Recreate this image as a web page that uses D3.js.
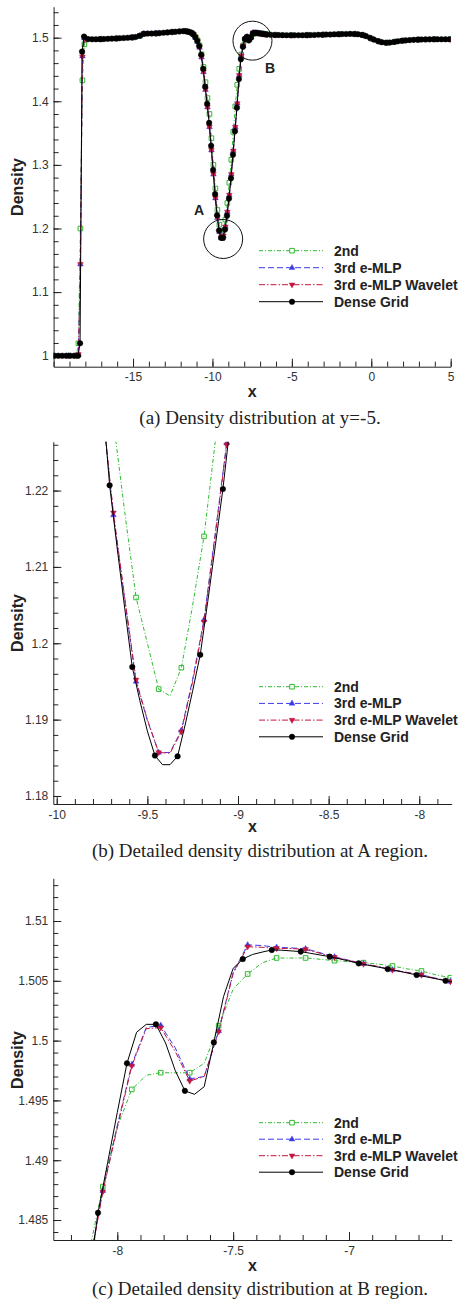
<!DOCTYPE html>
<html>
<head>
<meta charset="utf-8">
<title>Density distribution</title>
<script src="https://cdn.jsdelivr.net/npm/d3@7"></script>
<style>
  html, body { margin: 0; padding: 0; background: #fff; }
  svg { display: block; }
</style>
</head>
<body>
<svg id="fig" width="463" height="1302"></svg>
<script>
// ---------- series names, ticks, captions ----------
const seriesNames = ["2nd", "3rd e-MLP", "3rd e-MLP Wavelet", "Dense Grid"];

const xTicksA = [-15, -10, -5, 0, 5];
const yTicksA = [1, 1.1, 1.2, 1.3, 1.4, 1.5];
const xTicksB = [-10, -9.5, -9, -8.5, -8];
const yTicksB = [1.18, 1.19, 1.2, 1.21, 1.22];
const xTicksC = [-8, -7.5, -7];
const yTicksC = [1.485, 1.49, 1.495, 1.5, 1.505, 1.51];

const captions = [
  "(a) Density distribution at y=-5.",
  "(b) Detailed density distribution at A region.",
  "(c) Detailed density distribution at B region."
];

// ---------- (a) full line y=-5, values [x, density] ----------
const secondA = [
  [-20,1.0],[-19.0625,1.0],[-18.5625,1.0],[-18.4375,1.0195],[-18.3125,1.2],[-18.1875,1.433],
  [-18.0625,1.4896],[-17.9375,1.4972],[-17,1.4977],[-16,1.4989],[-15,1.5005],[-14.5625,1.5028],
  [-14.3125,1.5058],[-13.5,1.5068],[-12.5,1.5089],[-11.5625,1.5096],[-11.3125,1.5078],[-11.1875,1.5052],
  [-11.0625,1.5010],[-10.9375,1.4960],[-10.8125,1.4880],[-10.6875,1.4740],[-10.5625,1.4540],[-10.4375,1.4300],
  [-10.3125,1.4050],[-10.1875,1.3800],[-10.0625,1.3420],[-9.9375,1.3000],[-9.8125,1.2630],[-9.6875,1.2291],
  [-9.5625,1.2060],[-9.4375,1.1940],[-9.3125,1.1968],[-9.1875,1.2140],[-9.0625,1.2400],[-8.9375,1.2720],
  [-8.8125,1.3080],[-8.6875,1.3520],[-8.5625,1.3920],[-8.4375,1.4260],[-8.3125,1.4510],[-8.1875,1.4735],
  [-8.0625,1.4880],[-7.9375,1.4959],[-7.8125,1.4973],[-7.6875,1.4973],[-7.5625,1.5013],[-7.4375,1.5056],
  [-7.3125,1.5069],[-7.1875,1.5069],[-7.0625,1.5067],[-6.9375,1.5065],[-6.8125,1.5062],[-6.6875,1.5058],
  [-6.5625,1.5053],[-6,1.5043],[-5,1.5038],[-4,1.5040],[-3,1.5047],[-2,1.5055],[-1,1.5058],[-0.5,1.5040],
  [0,1.4985],[0.5,1.4940],[1,1.4921],[1.5,1.4936],[2,1.4953],[3,1.4970],[4,1.4975],[5,1.4975]
];
const emlpA = [
  [-20,1.0],[-19.0625,1.0],[-18.5625,1.0],[-18.4375,1.002],[-18.3125,1.1440],[-18.1875,1.471],
  [-18.0625,1.4993],[-17.9375,1.4979],[-17,1.4977],[-16,1.4989],[-15,1.5005],[-14.5625,1.5032],
  [-14.3125,1.5062],[-13.5,1.5068],[-12.5,1.5089],[-11.5625,1.5096],[-11.3125,1.5075],[-11.1875,1.5050],
  [-11.0625,1.5001],[-10.9375,1.4936],[-10.8125,1.4846],[-10.6875,1.4692],[-10.5625,1.4462],[-10.4375,1.4182],
  [-10.3125,1.3907],[-10.1875,1.3597],[-10.0625,1.3232],[-9.9375,1.2852],[-9.8125,1.2478],[-9.6875,1.2168],
  [-9.5625,1.1950],[-9.4375,1.1857],[-9.3125,1.1886],[-9.1875,1.2031],[-9.0625,1.2262],[-8.9375,1.2527],
  [-8.8125,1.2853],[-8.6875,1.3223],[-8.5625,1.3598],[-8.4375,1.3968],[-8.3125,1.4412],[-8.1875,1.4717],
  [-8.0625,1.48745],[-7.9375,1.4980],[-7.8125,1.50128],[-7.6875,1.4968],[-7.5625,1.5008],[-7.4375,1.5080],
  [-7.3125,1.5078],[-7.1875,1.50768],[-7.0625,1.5070],[-6.9375,1.50643],[-6.8125,1.50592],[-6.6875,1.5055],
  [-6.5625,1.50495],[-6,1.5043],[-5,1.5038],[-4,1.5040],[-3,1.5047],[-2,1.5055],[-1,1.5058],[-0.5,1.5040],
  [0,1.4985],[0.5,1.4940],[1,1.4921],[1.5,1.4936],[2,1.4953],[3,1.4970],[4,1.4975],[5,1.4975]
];
const waveletA = [
  [-20,1.0],[-19.0625,1.0],[-18.5625,1.0],[-18.4375,1.002],[-18.3125,1.1437],[-18.1875,1.470],
  [-18.0625,1.4995],[-17.9375,1.4980],[-17,1.4977],[-16,1.4989],[-15,1.5005],[-14.5625,1.5032],
  [-14.3125,1.5062],[-13.5,1.5068],[-12.5,1.5089],[-11.5625,1.5096],[-11.3125,1.5075],[-11.1875,1.5050],
  [-11.0625,1.5002],[-10.9375,1.4938],[-10.8125,1.4848],[-10.6875,1.4695],[-10.5625,1.4465],[-10.4375,1.4185],
  [-10.3125,1.3910],[-10.1875,1.3600],[-10.0625,1.3235],[-9.9375,1.2855],[-9.8125,1.2480],[-9.6875,1.2171],
  [-9.5625,1.1952],[-9.4375,1.1857],[-9.3125,1.1884],[-9.1875,1.2028],[-9.0625,1.2260],[-8.9375,1.2525],
  [-8.8125,1.2850],[-8.6875,1.3220],[-8.5625,1.3595],[-8.4375,1.3965],[-8.3125,1.4410],[-8.1875,1.4715],
  [-8.0625,1.48737],[-7.9375,1.49788],[-7.8125,1.50108],[-7.6875,1.49662],[-7.5625,1.50075],[-7.4375,1.50785],
  [-7.3125,1.50771],[-7.1875,1.50763],[-7.0625,1.50696],[-6.9375,1.5064],[-6.8125,1.5059],[-6.6875,1.50549],
  [-6.5625,1.50493],[-6,1.5043],[-5,1.5038],[-4,1.5040],[-3,1.5047],[-2,1.5055],[-1,1.5058],[-0.5,1.5040],
  [0,1.4985],[0.5,1.4940],[1,1.4921],[1.5,1.4936],[2,1.4953],[3,1.4970],[4,1.4975],[5,1.4975]
];
const denseA = [
  [-19.9583,1.0],[-19.7083,1.0],[-19.4583,1.0],[-19.2083,1.0],[-18.9583,1.0],[-18.7083,1.0],[-18.4583,1.0],
  [-18.3333,1.0195],[-18.2083,1.478],[-18.0833,1.5016],
  [-17.8333,1.4978],[-17.5833,1.4975],[-17.3333,1.4975],[-17.0833,1.4977],[-16.8333,1.4979],[-16.5833,1.4982],
  [-16.3333,1.4985],[-16.0833,1.4988],[-15.8333,1.4992],[-15.5833,1.4996],[-15.3333,1.5000],[-15.0833,1.5004],
  [-14.8333,1.5010],[-14.5833,1.5030],[-14.3333,1.5062],[-14.0833,1.5066],[-13.8333,1.5066],[-13.5833,1.5068],
  [-13.3333,1.5072],[-13.0833,1.5077],[-12.8333,1.5083],[-12.5833,1.5089],[-12.3333,1.5094],[-12.0833,1.5099],
  [-11.8333,1.5103],[-11.7083,1.5103],
  [-11.5833,1.5097],[-11.4583,1.5090],[-11.3333,1.5078],[-11.2083,1.5055],[-11.0833,1.5010],[-10.9583,1.4950],
  [-10.8333,1.4870],[-10.7083,1.4730],[-10.5833,1.4510],[-10.4583,1.4230],[-10.3333,1.3960],[-10.2083,1.3660],
  [-10.0833,1.3300],[-9.9583,1.2920],[-9.8333,1.2540],[-9.7083,1.2207],[-9.5833,1.1969],[-9.4583,1.1853],
  [-9.3333,1.1852],[-9.2083,1.1985],[-9.0833,1.2202],[-8.9583,1.2470],[-8.8333,1.2790],[-8.7083,1.3160],
  [-8.5833,1.3530],[-8.4583,1.3900],[-8.3333,1.4350],[-8.2083,1.4660],[-8.0833,1.4856],[-7.9583,1.4981],
  [-7.8333,1.5014],[-7.7083,1.4958],[-7.5833,1.4999],[-7.4583,1.5068],[-7.3333,1.5076],[-7.2083,1.5074],
  [-7.0833,1.5070],[-6.9583,1.5065],[-6.8333,1.5060],[-6.7083,1.5055],[-6.5833,1.5050],
  [-6.3333,1.5046],[-6.0833,1.5043],[-5.8333,1.5041],[-5.5833,1.5040],[-5.3333,1.5039],[-5.0833,1.5038],
  [-4.8333,1.5038],[-4.5833,1.5038],[-4.3333,1.5039],[-4.0833,1.5040],[-3.8333,1.5041],[-3.5833,1.5043],
  [-3.3333,1.5045],[-3.0833,1.5047],[-2.8333,1.5049],[-2.5833,1.5051],[-2.3333,1.5053],[-2.0833,1.5055],
  [-1.8333,1.5057],[-1.5833,1.5058],[-1.3333,1.5059],[-1.0833,1.5058],[-0.8333,1.5054],[-0.5833,1.5044],
  [-0.3333,1.5024],[-0.0833,1.4998],[0.1667,1.4970],[0.4167,1.4946],[0.6667,1.4929],[0.9167,1.4921],
  [1.1667,1.4924],[1.4167,1.4933],[1.6667,1.4943],[1.9167,1.4951],[2.1667,1.4957],[2.4167,1.4962],
  [2.6667,1.4966],[2.9167,1.4969],[3.1667,1.4971],[3.4167,1.4973],[3.6667,1.4974],[3.9167,1.4975],
  [4.1667,1.4975],[4.4167,1.4975],[4.6667,1.4975],[4.9167,1.4975]
];

// ---------- (b) region A ----------
const secondB = [
  [-9.8125,1.2630],[-9.75,1.2440],[-9.6875,1.2291],[-9.625,1.2172],[-9.5625,1.2060],[-9.5,1.2000],
  [-9.4375,1.1940],[-9.375,1.1931],[-9.3125,1.1968],[-9.25,1.2050],[-9.1875,1.2140],[-9.125,1.2265],
  [-9.0625,1.2400],[-9.0,1.2560],[-8.9375,1.2720]
];
const emlpB = [
  [-9.8125,1.2478],[-9.75,1.2310],[-9.6875,1.2168],[-9.625,1.2057],[-9.5625,1.1950],[-9.5,1.1899],
  [-9.4375,1.1857],[-9.375,1.1857],[-9.3125,1.1886],[-9.25,1.1953],[-9.1875,1.2031],[-9.125,1.2145],
  [-9.0625,1.2262],[-9.0,1.2392],[-8.9375,1.2527]
];
const waveletB = [
  [-9.8125,1.2480],[-9.75,1.2313],[-9.6875,1.2171],[-9.625,1.2060],[-9.5625,1.1952],[-9.5,1.1900],
  [-9.4375,1.1857],[-9.375,1.1856],[-9.3125,1.1884],[-9.25,1.1950],[-9.1875,1.2028],[-9.125,1.2142],
  [-9.0625,1.2260],[-9.0,1.2390],[-8.9375,1.2525]
];
const denseB = [
  [-9.8333,1.2540],[-9.7917,1.2432],[-9.75,1.2328],
  [-9.7083,1.2207],[-9.6667,1.2125],[-9.625,1.2046],
  [-9.5833,1.1969],[-9.5417,1.1925],[-9.5,1.1885],
  [-9.4583,1.1853],[-9.4167,1.1841],[-9.375,1.1841],
  [-9.3333,1.1852],[-9.2917,1.1893],[-9.25,1.1938],
  [-9.2083,1.1985],[-9.1667,1.2055],[-9.125,1.2128],
  [-9.0833,1.2202],[-9.0417,1.2289],[-9.0,1.2380],
  [-8.9583,1.2470]
];

// ---------- (c) region B ----------
const secondC = [
  [-8.3125,1.4510],[-8.25,1.4630],[-8.1875,1.4735],[-8.125,1.4820],[-8.0625,1.4878],[-8.0,1.4928],
  [-7.9375,1.49592],[-7.875,1.4971],[-7.8125,1.49732],[-7.75,1.4973],[-7.6875,1.49732],[-7.625,1.4981],
  [-7.5625,1.50125],[-7.5,1.5043],[-7.4375,1.50557],[-7.375,1.5065],[-7.3125,1.50691],[-7.25,1.5069],
  [-7.1875,1.50691],[-7.125,1.5068],[-7.0625,1.50668],[-7.0,1.5066],[-6.9375,1.50652],[-6.875,1.5064],
  [-6.8125,1.50624],[-6.75,1.5060],[-6.6875,1.50582],[-6.625,1.5055],[-6.5625,1.50526],[-6.5,1.5050]
];
const emlpC = [
  [-8.3125,1.4412],[-8.25,1.4577],[-8.1875,1.4717],[-8.125,1.4808],[-8.0625,1.48745],[-8.0,1.4929],
  [-7.9375,1.4980],[-7.875,1.5011],[-7.8125,1.50128],[-7.75,1.4994],[-7.6875,1.4968],[-7.625,1.4970],
  [-7.5625,1.5008],[-7.5,1.5057],[-7.4375,1.5080],[-7.375,1.50795],[-7.3125,1.5078],[-7.25,1.50775],
  [-7.1875,1.50768],[-7.125,1.50735],[-7.0625,1.5070],[-7.0,1.50672],[-6.9375,1.50643],[-6.875,1.50618],
  [-6.8125,1.50592],[-6.75,1.5057],[-6.6875,1.5055],[-6.625,1.50522],[-6.5625,1.50495],[-6.5,1.5047]
];
const waveletC = [
  [-8.3125,1.4410],[-8.25,1.4575],[-8.1875,1.4715],[-8.125,1.4806],[-8.0625,1.48737],[-8.0,1.4927],
  [-7.9375,1.49788],[-7.875,1.5010],[-7.8125,1.50108],[-7.75,1.4991],[-7.6875,1.49662],[-7.625,1.4970],
  [-7.5625,1.50075],[-7.5,1.5056],[-7.4375,1.50785],[-7.375,1.5078],[-7.3125,1.50771],[-7.25,1.5077],
  [-7.1875,1.50763],[-7.125,1.5073],[-7.0625,1.50696],[-7.0,1.5067],[-6.9375,1.5064],[-6.875,1.5062],
  [-6.8125,1.5059],[-6.75,1.5057],[-6.6875,1.50549],[-6.625,1.5052],[-6.5625,1.50493],[-6.5,1.5047]
];
const denseC = [
  [-8.3333,1.4350],[-8.2917,1.4470],[-8.25,1.4570],
  [-8.2083,1.4660],[-8.1667,1.4735],[-8.125,1.4797],
  [-8.0833,1.4856],[-8.0417,1.4898],[-8.0,1.4940],
  [-7.9583,1.4981],[-7.9167,1.5007],[-7.875,1.50136],
  [-7.8333,1.50136],[-7.7917,1.4998],[-7.75,1.4975],
  [-7.7083,1.4958],[-7.6667,1.49551],[-7.625,1.49615],
  [-7.5833,1.49985],[-7.5417,1.50367],[-7.5,1.50604],
  [-7.4583,1.50682],[-7.4167,1.5072],[-7.375,1.5074],
  [-7.3333,1.50758],[-7.2917,1.50756],[-7.25,1.5075],
  [-7.2083,1.50744],[-7.1667,1.5073],[-7.125,1.50716],
  [-7.0833,1.50702],[-7.0417,1.50684],[-7.0,1.50665],
  [-6.9583,1.50646],[-6.9167,1.5063],[-6.875,1.50615],
  [-6.8333,1.50599],[-6.7917,1.50583],[-6.75,1.50566],
  [-6.7083,1.50549],[-6.6667,1.50533],[-6.625,1.50517],
  [-6.5833,1.50501],[-6.5417,1.50485],[-6.5,1.5047]
];

// ---------- drawing styles ----------
const styles = [
  { color: "#2fbb2f", dash: "4,2,1,2", marker: "square" },
  { color: "#3a3ae8", dash: "6,3", marker: "triUp" },
  { color: "#c3163f", dash: "6,2,1.5,2", marker: "triDown" },
  { color: "#000000", dash: null, marker: "circle" }
];
const markerPath = {
  square: "M-2.3,-2.3H2.3V2.3H-2.3Z",
  triUp: "M0,-3.3L2.9,1.8H-2.9Z",
  triDown: "M0,3.3L2.9,-1.8H-2.9Z",
  circle: "M2.8,0A2.8,2.8 0 1,1 -2.8,0A2.8,2.8 0 1,1 2.8,0Z"
};

const sansFont = "'Liberation Sans', Arial, Helvetica, sans-serif";
const serifFont = "'Liberation Serif', 'Times New Roman', Times, serif";

const panels = [
  { id: "a", series: [secondA, emlpA, waveletA, denseA], markEvery: [1, 1, 1, 1],
    xDomain: [-20, 5], yDomain: [0.9827, 1.5487],
    box: { left: 53.6, right: 450.7, top: 6.7, bottom: 366.7 },
    xTicks: xTicksA, yTicks: yTicksA, xMinor: 1, yMinor: 0.02,
    legendTop: 250.7, legendStep: 17, xLabelY: 397, densityY: 187,
    captionY: 424, caption: captions[0],
    notes: [
      { label: "A", cx: -9.326, cy: 1.1835, r: 19.5, lx: -10.84, ly: 1.2291 },
      { label: "B", cx: -7.479, cy: 1.4953, r: 19.5, lx: -6.365, ly: 1.4524 }
    ] },
  { id: "b", series: [secondB, emlpB, waveletB, denseB], markEvery: [2, 2, 2, 3],
    xDomain: [-10.019, -7.821], yDomain: [1.17895, 1.2264],
    box: { left: 53.3, right: 451.7, top: 441.7, bottom: 804 },
    xTicks: xTicksB, yTicks: yTicksB, xMinor: 0.1, yMinor: 0.002,
    legendTop: 686.7, legendStep: 16.7, xLabelY: 832, densityY: 623,
    captionY: 857, caption: captions[1], notes: [] },
  { id: "c", series: [secondC, emlpC, waveletC, denseC], markEvery: [2, 2, 2, 3],
    xDomain: [-8.2762, -6.5568], yDomain: [1.48333, 1.51357],
    box: { left: 53.3, right: 451.7, top: 878.3, bottom: 1240 },
    xTicks: xTicksC, yTicks: yTicksC, xMinor: 0.1, yMinor: 0.001,
    legendTop: 1122.7, legendStep: 16.5, xLabelY: 1271, densityY: 1060,
    captionY: 1295, caption: captions[2], notes: [] }
];

const svg = d3.select("#fig");

// multiples of step inside a domain
function minorValues(domain, step) {
  const lo = Math.ceil(Math.min(...domain) / step - 1e-9);
  const hi = Math.floor(Math.max(...domain) / step + 1e-9);
  return d3.range(lo, hi + 1).map(i => +(i * step).toFixed(6));
}

function styleAxis(g) {
  g.selectAll(".domain").attr("stroke", "#222").attr("stroke-width", 1);
  g.selectAll(".tick line").attr("stroke", "#222").attr("stroke-width", 1);
  g.selectAll(".tick text").attr("fill", "#333")
    .attr("font-family", sansFont).attr("font-size", 12);
}

function drawPanel(p) {
  const b = p.box;
  const x = d3.scaleLinear().domain(p.xDomain).range([b.left, b.right]);
  const y = d3.scaleLinear().domain(p.yDomain).range([b.bottom, b.top]);
  const root = svg.append("g").attr("class", "panel-" + p.id);

  // minor ticks (inward)
  root.append("g").attr("transform", `translate(0,${b.bottom})`)
    .call(d3.axisBottom(x).tickValues(minorValues(p.xDomain, p.xMinor))
      .tickSizeInner(-5).tickSizeOuter(0).tickFormat(""))
    .call(g => g.select(".domain").remove())
    .call(styleAxis);
  root.append("g").attr("transform", `translate(${b.left},0)`)
    .call(d3.axisLeft(y).tickValues(minorValues(p.yDomain, p.yMinor))
      .tickSizeInner(-5).tickSizeOuter(0).tickFormat(""))
    .call(g => g.select(".domain").remove())
    .call(styleAxis);

  // major ticks with labels
  root.append("g").attr("transform", `translate(0,${b.bottom})`)
    .call(d3.axisBottom(x).tickValues(p.xTicks).tickSizeInner(-8).tickSizeOuter(0)
      .tickPadding(6).tickFormat(d => String(d)))
    .call(styleAxis);
  root.append("g").attr("transform", `translate(${b.left},0)`)
    .call(d3.axisLeft(y).tickValues(p.yTicks).tickSizeInner(-8).tickSizeOuter(0)
      .tickPadding(5).tickFormat(d => String(d)))
    .call(styleAxis);

  // data, clipped to the plot box
  const clipId = "clip-" + p.id;
  svg.append("clipPath").attr("id", clipId).append("rect")
    .attr("x", b.left).attr("y", b.top)
    .attr("width", b.right - b.left).attr("height", b.bottom - b.top);
  const plot = root.append("g").attr("clip-path", `url(#${clipId})`);
  const line = d3.line().x(d => x(d[0])).y(d => y(d[1]));

  p.series.forEach((data, si) => {
    const st = styles[si];
    const sg = plot.append("g").attr("class", "series-" + si);
    sg.append("path").datum(data).attr("d", line)
      .attr("fill", "none").attr("stroke", st.color).attr("stroke-width", 1)
      .attr("stroke-dasharray", st.dash);
    const every = p.markEvery[si];
    sg.selectAll("path.mk").data(data.filter((d, i) => i % every === 0))
      .join("path").attr("class", "mk")
      .attr("transform", d => `translate(${x(d[0])},${y(d[1])})`)
      .attr("d", markerPath[st.marker])
      .attr("fill", st.marker === "square" ? "none" : st.color)
      .attr("stroke", st.color)
      .attr("stroke-width", st.marker === "square" ? 1 : 0.4);
  });

  // circled regions
  p.notes.forEach(n => {
    root.append("circle").attr("cx", x(n.cx)).attr("cy", y(n.cy)).attr("r", n.r)
      .attr("fill", "none").attr("stroke", "#111").attr("stroke-width", 1);
    root.append("text").attr("x", x(n.lx)).attr("y", y(n.ly)).attr("dy", "0.35em")
      .attr("text-anchor", "middle").attr("font-family", sansFont)
      .attr("font-weight", "bold").attr("font-size", 14).attr("fill", "#222").text(n.label);
  });

  // legend
  const lg = root.append("g");
  seriesNames.forEach((name, si) => {
    const st = styles[si];
    const ly = p.legendTop + si * p.legendStep;
    lg.append("line").attr("x1", 259).attr("x2", 323).attr("y1", ly).attr("y2", ly)
      .attr("stroke", st.color).attr("stroke-width", 1).attr("stroke-dasharray", st.dash);
    lg.append("path").attr("transform", `translate(292,${ly})`).attr("d", markerPath[st.marker])
      .attr("fill", st.marker === "square" ? "#fff" : st.color)
      .attr("stroke", st.color).attr("stroke-width", st.marker === "square" ? 1 : 0.4);
    lg.append("text").attr("x", 334).attr("y", ly).attr("dy", "0.36em")
      .attr("font-family", sansFont).attr("font-weight", "bold").attr("font-size", 14)
      .attr("fill", "#222").text(name);
  });

  // axis titles
  root.append("text").attr("x", (b.left + b.right) / 2).attr("y", p.xLabelY)
    .attr("text-anchor", "middle").attr("font-family", sansFont).attr("font-weight", "bold")
    .attr("font-size", 16).attr("fill", "#222").text("x");
  root.append("text").attr("transform", `translate(22.5,${p.densityY}) rotate(-90)`)
    .attr("text-anchor", "middle").attr("font-family", sansFont).attr("font-weight", "bold")
    .attr("font-size", 16).attr("fill", "#222").text("Density");

  // caption
  root.append("text").attr("x", 260).attr("y", p.captionY).attr("text-anchor", "middle")
    .attr("font-family", serifFont).attr("font-size", 19).attr("fill", "#222").text(p.caption);
}

panels.forEach(drawPanel);
</script>
</body>
</html>
